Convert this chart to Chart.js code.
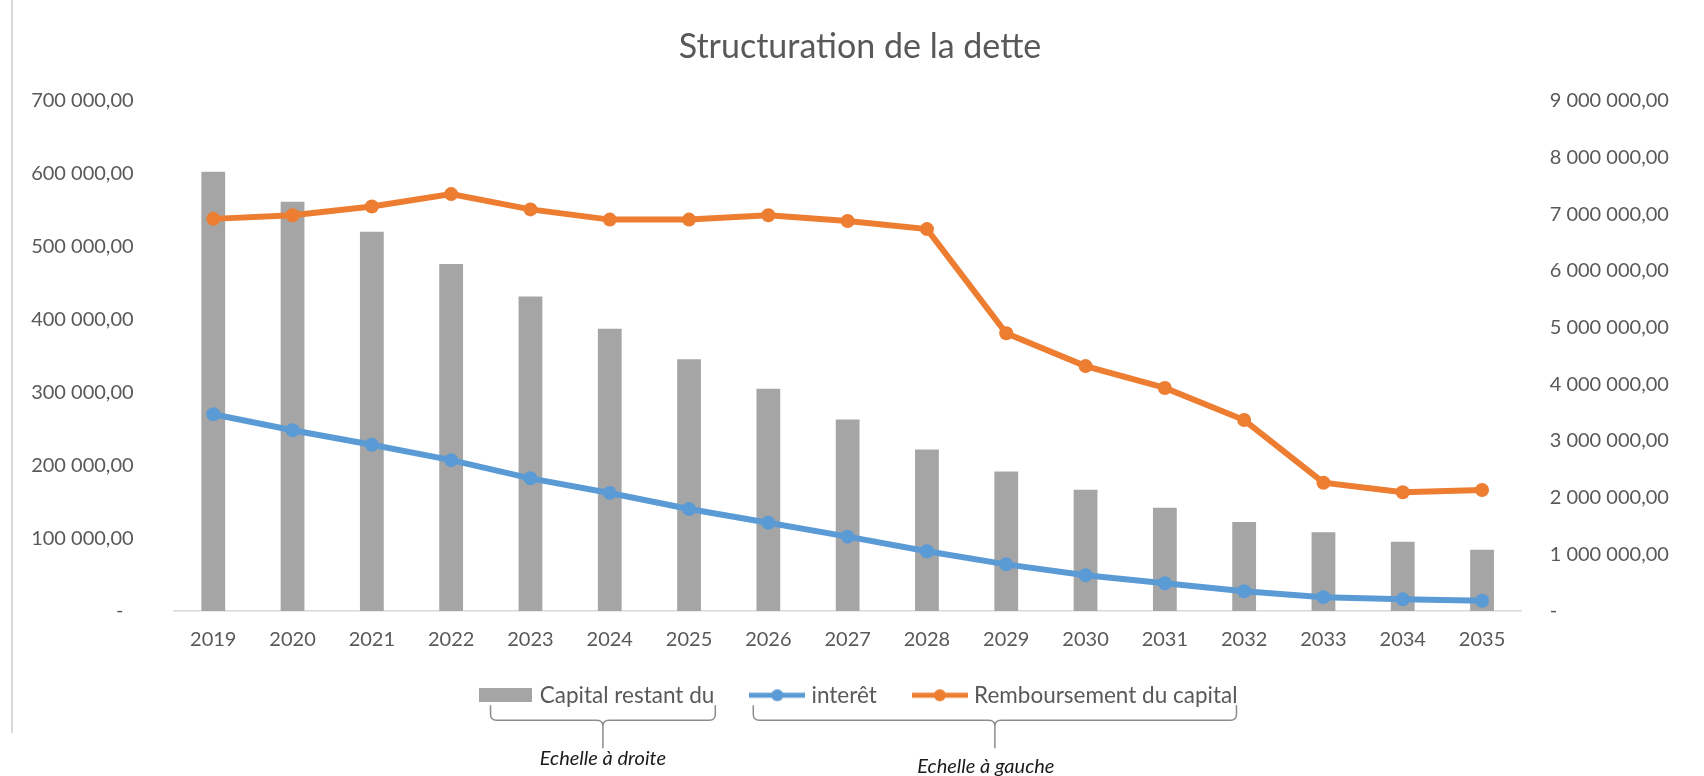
<!DOCTYPE html>
<html>
<head>
<meta charset="utf-8">
<title>Structuration de la dette</title>
<script src="https://cdn.jsdelivr.net/npm/chart.js@4.4.1/dist/chart.umd.min.js"></script>
<style>
  html, body { margin: 0; padding: 0; background: #fff; }
  #wrap { position: relative; width: 1704px; height: 776px; }
  #frame { position: absolute; left: 11px; top: 0; width: 2px; height: 733px; background: #d9d9d9; }
  #chart { position: absolute; left: 0; top: 0; }
</style>
</head>
<body>
<div id="wrap">
  <div id="frame"></div>
  <canvas id="chart" width="1704" height="776"></canvas>
</div>
<script>
// --- data ---
const years = ['2019', '2020', '2021', '2022', '2023', '2024', '2025', '2026', '2027',
               '2028', '2029', '2030', '2031', '2032', '2033', '2034', '2035'];

// right scale
const capitalRestant = [7750000, 7220000, 6690000, 6120000, 5550000, 4980000, 4440000, 3920000, 3380000,
                        2850000, 2460000, 2140000, 1820000, 1570000, 1390000, 1220000, 1080000];
// left scale
const interets = [270000, 248000, 228000, 207000, 182000, 162000, 140000, 121000, 102000,
                  82000, 64000, 49000, 38000, 27000, 19000, 16000, 14000];
const remboursement = [538000, 543000, 555000, 572000, 551000, 537000, 537000, 543000, 535000,
                       524000, 381000, 336000, 306000, 262000, 176000, 163000, 166000];

const seriesLabels = ['Capital restant du', 'interêt', 'Remboursement du capital'];
const noteLabels = ['Echelle à droite', 'Echelle à gauche'];
const chartTitle = 'Structuration de la dette';

const leftMax = 700000, leftStep = 100000;
const rightMax = 9000000, rightStep = 1000000;

const GREY = '#a5a5a5', BLUE = '#5b9bd5', ORANGE = '#ed7d31', TEXT = '#595959';

// "700 000,00" style, zero shown as a dash (accounting format)
function money(v) {
  return Math.round(v).toString().replace(/\B(?=(\d{3})+(?!\d))/g, ' ') + ',00';
}

// legend markers: a grey block for the bars, a line with a dot for the lines
function barMark(color) {
  const c = document.createElement('canvas');
  c.width = 53; c.height = 14;
  const g = c.getContext('2d');
  g.fillStyle = color;
  g.fillRect(0, 0, 53, 14);
  return c;
}
function lineMark(color) {
  const c = document.createElement('canvas');
  c.width = 56; c.height = 14;
  const g = c.getContext('2d');
  g.strokeStyle = color;
  g.lineWidth = 5;
  g.beginPath(); g.moveTo(0, 7); g.lineTo(56, 7); g.stroke();
  g.fillStyle = color;
  g.beginPath(); g.arc(28, 7, 6, 0, Math.PI * 2); g.fill();
  return c;
}
const legendMarks = [barMark(GREY), lineMark(BLUE), lineMark(ORANGE)];

// the x labels need their full height, so the legend is lifted a little afterwards
const legendLift = {
  id: 'legendLift',
  afterLayout(chart) {
    const lg = chart.legend;
    if (!lg) return;
    lg.top -= 8;
    lg.bottom -= 8;
  }
};

// curly brackets under the legend with the "which scale" notes
const scaleNotes = {
  id: 'scaleNotes',
  afterDraw(chart) {
    const boxes = chart.legend && chart.legend.legendHitBoxes;
    if (!boxes || boxes.length < 3) return;
    const ctx = chart.ctx;
    const cy = boxes[0].top + boxes[0].height / 2;
    const groups = [
      { x1: boxes[0].left + 8, x2: boxes[0].left + boxes[0].width + 1, text: noteLabels[0], dy: 63, shift: 0 },
      { x1: boxes[1].left - 1, x2: boxes[2].left + boxes[2].width - 1, text: noteLabels[1], dy: 71, shift: -9 }
    ];
    const yT = cy + 10, yM = cy + 25, yB = cy + 53, r = 6;
    ctx.save();
    ctx.strokeStyle = '#8c8c8c';
    ctx.lineWidth = 1.5;
    groups.forEach(gr => {
      const cx = (gr.x1 + gr.x2) / 2;
      ctx.beginPath();
      ctx.moveTo(gr.x1, yT);
      ctx.lineTo(gr.x1, yM - r);
      ctx.quadraticCurveTo(gr.x1, yM, gr.x1 + r, yM);
      ctx.lineTo(cx - r, yM);
      ctx.quadraticCurveTo(cx, yM, cx, yM + r);
      ctx.lineTo(cx, yB);
      ctx.moveTo(cx, yM + r);
      ctx.quadraticCurveTo(cx, yM, cx + r, yM);
      ctx.lineTo(gr.x2 - r, yM);
      ctx.quadraticCurveTo(gr.x2, yM, gr.x2, yM - r);
      ctx.lineTo(gr.x2, yT);
      ctx.stroke();

      ctx.fillStyle = '#1a1a1a';
      ctx.font = 'italic 20px Lato';
      ctx.textAlign = 'center';
      ctx.textBaseline = 'middle';
      ctx.fillText(gr.text, cx + gr.shift, cy + gr.dy);
    });
    ctx.restore();
  }
};

Chart.defaults.font.family = 'Lato';
Chart.defaults.color = TEXT;

new Chart(document.getElementById('chart'), {
  type: 'bar',
  data: {
    labels: years,
    datasets: [
      {
        type: 'bar',
        label: seriesLabels[0],
        data: capitalRestant,
        yAxisID: 'yRight',
        backgroundColor: GREY,
        barPercentage: 0.3,
        categoryPercentage: 1,
        order: 3
      },
      {
        type: 'line',
        label: seriesLabels[1],
        data: interets,
        yAxisID: 'yLeft',
        borderColor: BLUE,
        backgroundColor: BLUE,
        borderWidth: 6,
        pointRadius: 7,
        pointBorderWidth: 0,
        tension: 0,
        order: 2
      },
      {
        type: 'line',
        label: seriesLabels[2],
        data: remboursement,
        yAxisID: 'yLeft',
        borderColor: ORANGE,
        backgroundColor: ORANGE,
        borderWidth: 6,
        pointRadius: 7,
        pointBorderWidth: 0,
        tension: 0,
        order: 1
      }
    ]
  },
  options: {
    responsive: false,
    animation: false,
    devicePixelRatio: 1,
    layout: { padding: { left: 16, right: 0, top: 0, bottom: 51.5 } },
    scales: {
      x: {
        grid: { display: false, drawTicks: false },
        border: { display: true, color: '#d9d9d9', width: 1.5 },
        ticks: { color: TEXT, font: { size: 20 }, padding: 17, maxRotation: 0 },
        afterFit(scale) { scale.height = 41; }
      },
      yLeft: {
        position: 'left',
        min: 0,
        max: leftMax,
        grid: { display: false, drawTicks: false },
        border: { display: false },
        ticks: {
          stepSize: leftStep,
          color: TEXT,
          font: { size: 20 },
          padding: 40,
          callback: v => (v === 0 ? '-\u00a0\u00a0' : money(v))
        },
        afterFit(scale) { scale.width = 157.6; }
      },
      yRight: {
        position: 'right',
        min: 0,
        max: rightMax,
        grid: { display: false, drawTicks: false },
        border: { display: false },
        ticks: {
          stepSize: rightStep,
          color: TEXT,
          font: { size: 20 },
          padding: 28,
          callback: v => (v === 0 ? '-' : money(v))
        },
        afterFit(scale) { scale.width = 182.3; }
      }
    },
    plugins: {
      title: {
        display: true,
        text: chartTitle,
        color: TEXT,
        font: { size: 34, weight: 'normal' },
        padding: { top: 27, bottom: 33 }
      },
      legend: {
        position: 'bottom',
        labels: {
          usePointStyle: true,
          pointStyleWidth: 46,
          padding: 40,
          color: TEXT,
          font: { size: 22.5 },
          sort: (a, b) => a.datasetIndex - b.datasetIndex,
          generateLabels(chart) {
            const items = Chart.defaults.plugins.legend.labels.generateLabels(chart);
            items.forEach(it => { it.pointStyle = legendMarks[it.datasetIndex]; });
            return items;
          }
        }
      },
      tooltip: { enabled: false }
    }
  },
  plugins: [legendLift, scaleNotes]
});
</script>
</body>
</html>
